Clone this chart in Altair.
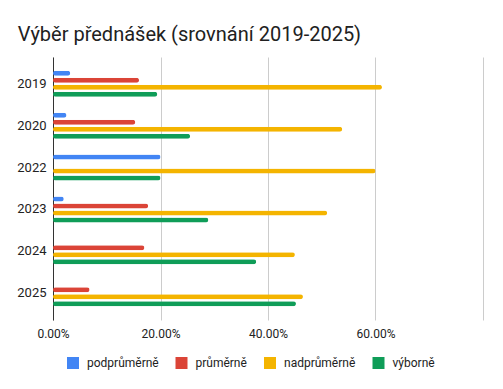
import altair as alt
import pandas as pd

years = ["2019", "2020", "2022", "2023", "2024", "2025"]
categories = ["podprůměrně", "průměrně", "nadprůměrně", "výborně"]
colors = ["#4285F4", "#DB4437", "#F4B400", "#0F9D58"]

podprumerne = [0.032, 0.025, 0.200, 0.020, 0.0, 0.0]
prumerne = [0.160, 0.153, 0.0, 0.177, 0.170, 0.068]
nadprumerne = [0.612, 0.538, 0.600, 0.510, 0.450, 0.465]
vyborne = [0.194, 0.255, 0.200, 0.289, 0.378, 0.452]

series = [podprumerne, prumerne, nadprumerne, vyborne]
rows = []
for cat, vals in zip(categories, series):
    for y, v in zip(years, vals):
        if v > 0:
            rows.append({"rok": y, "hodnoceni": cat, "podil": v})
df = pd.DataFrame(rows)

FONT = "Roboto"

chart = alt.Chart(df).mark_bar(cornerRadius=2.5).encode(
    y=alt.Y("rok:N", sort=years, title=None,
            scale=alt.Scale(domain=years, paddingInner=0.33, paddingOuter=0.306),
            axis=alt.Axis(domain=True, domainColor="#333333", domainWidth=1,
                          ticks=False, grid=False, labelFont=FONT, labelFontSize=13,
                          labelColor="#222222", labelPadding=7)),
    yOffset=alt.YOffset("hodnoceni:N", sort=categories,
                        scale=alt.Scale(domain=categories, paddingInner=2/7, paddingOuter=1/7)),
    x=alt.X("podil:Q", title=None,
            scale=alt.Scale(domain=[0, 0.8], nice=False),
            axis=alt.Axis(values=[0, 0.2, 0.4, 0.6, 0.8],
                          labelExpr="datum.value >= 0.79 ? '' : format(datum.value, '.2%')",
                          domain=False, ticks=False, grid=True, gridColor="#cccccc",
                          labelFont=FONT, labelFontSize=12, labelColor="#222222",
                          labelPadding=8, labelFlush=False)),
    color=alt.Color("hodnoceni:N", sort=categories,
                    scale=alt.Scale(domain=categories, range=colors),
                    legend=alt.Legend(title=None, orient="none", direction="horizontal",
                                      legendX=14, legendY=300,
                                      symbolType="square", symbolSize=144,
                                      symbolStrokeWidth=0, symbolOpacity=1,
                                      labelFont=FONT, labelFontSize=12,
                                      labelColor="#222222", labelOffset=8,
                                      columnPadding=16.5)),
).properties(
    width=430,
    height=263,
    padding={"left": 45, "top": 49, "right": 10, "bottom": 60},
    autosize=alt.AutoSizeParams(type="none"),
    title=alt.TitleParams("Výběr přednášek (srovnání 2019-2025)", anchor="start",
                          font=FONT, fontSize=20, fontWeight="normal",
                          color="#212121", dx=1, offset=12),
).configure_view(strokeWidth=0)

chart.save("out.html", embed_options={"renderer": "svg", "actions": False})
